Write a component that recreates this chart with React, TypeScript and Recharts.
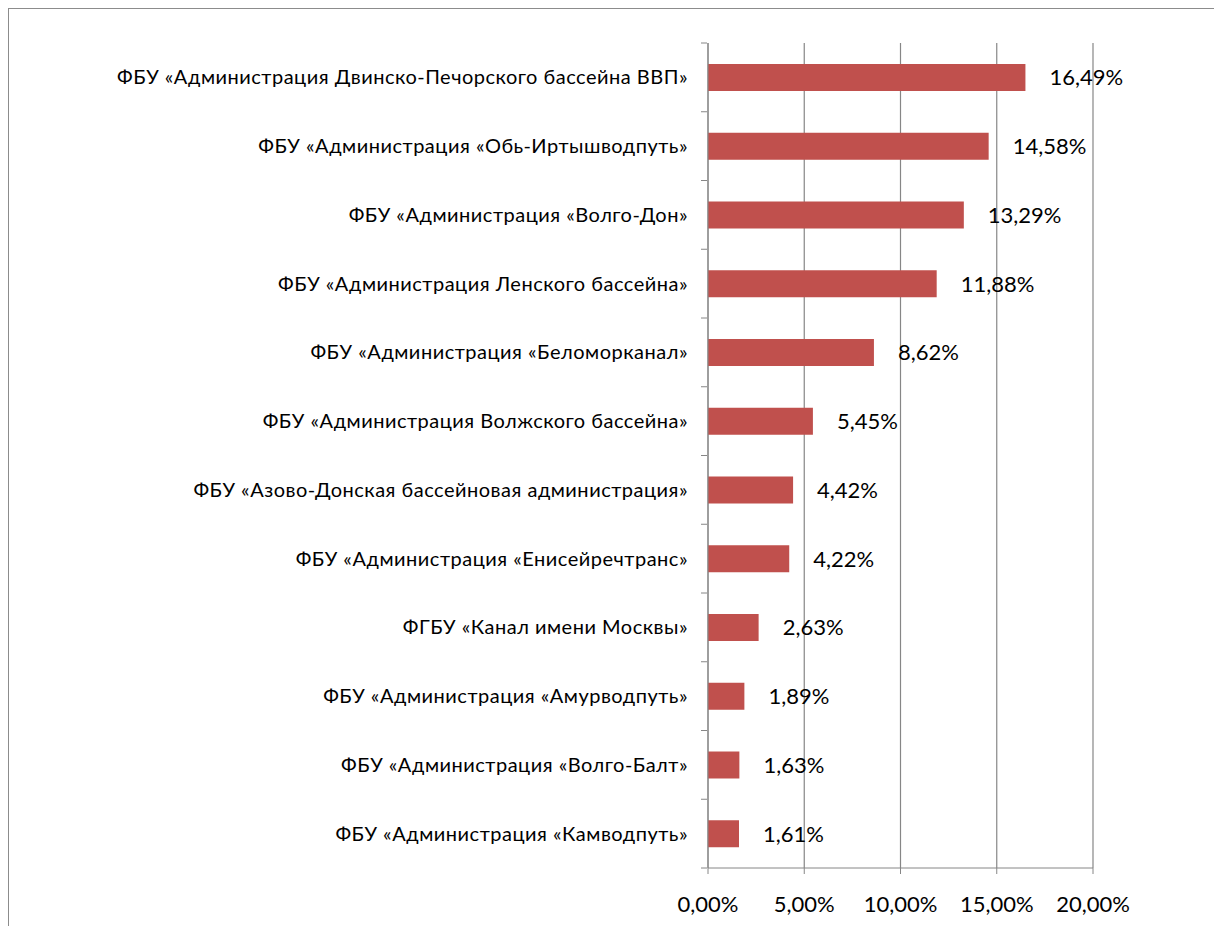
import React from "react";
import {
  BarChart,
  Bar,
  XAxis,
  YAxis,
  CartesianGrid,
  LabelList,
} from "recharts";

const organizations = [
  "ФБУ «Администрация Двинско-Печорского бассейна ВВП»",
  "ФБУ «Администрация «Обь-Иртышводпуть»",
  "ФБУ «Администрация «Волго-Дон»",
  "ФБУ «Администрация Ленского бассейна»",
  "ФБУ «Администрация «Беломорканал»",
  "ФБУ «Администрация Волжского бассейна»",
  "ФБУ «Азово-Донская бассейновая администрация»",
  "ФБУ «Администрация «Енисейречтранс»",
  "ФГБУ «Канал имени Москвы»",
  "ФБУ «Администрация «Амурводпуть»",
  "ФБУ «Администрация «Волго-Балт»",
  "ФБУ «Администрация «Камводпуть»",
];

const shares = [16.49, 14.58, 13.29, 11.88, 8.62, 5.45, 4.42, 4.22, 2.63, 1.89, 1.63, 1.61];

const xTicks = [0, 5, 10, 15, 20];

const data = organizations.map((name, i) => ({ name, value: shares[i] }));

const CHART_W = 1214;
const CHART_H = 918;
const MARGIN = { top: 34, right: 130, bottom: 19, left: 0 };
const X_AXIS_H = 40;
const Y_AXIS_W = 699;
const PLOT_H = CHART_H - MARGIN.top - MARGIN.bottom - X_AXIS_H;
const BAND = PLOT_H / organizations.length;

const AXIS_COLOR = "#868686";
const FONT = "Lato, 'Open Sans', sans-serif";

const pct = (v: number) => v.toFixed(2).replace(".", ",") + "%";

// category labels plus Excel-style tick marks between the categories
function CategoryTick(props: any) {
  const { x, y, payload, index } = props;
  return (
    <g>
      <line x1={x + 1} x2={x + 7} y1={y - BAND / 2} y2={y - BAND / 2} stroke={AXIS_COLOR} />
      {index === organizations.length - 1 && (
        <line x1={x + 1} x2={x + 7} y1={y + BAND / 2} y2={y + BAND / 2} stroke={AXIS_COLOR} />
      )}
      <text
        x={x - 12}
        y={y}
        dy={7}
        textAnchor="end"
        fontSize={20}
        letterSpacing={0.5}
        fontFamily={FONT}
        fill="#000"
      >
        {payload.value}
      </text>
    </g>
  );
}

export default function App() {
  return (
    <div
      style={{
        width: CHART_W,
        height: CHART_H,
        borderTop: "1.5px solid #8c8c8c",
        borderLeft: "1.5px solid #8c8c8c",
        background: "#fff",
      }}
    >
      <BarChart
        width={CHART_W}
        height={CHART_H}
        data={data}
        layout="vertical"
        margin={MARGIN}
        barSize={27}
      >
        <CartesianGrid horizontal={false} stroke={AXIS_COLOR} strokeWidth={1.2} />
        <XAxis
          type="number"
          domain={[0, 20]}
          ticks={xTicks}
          height={X_AXIS_H}
          tickFormatter={pct}
          stroke={AXIS_COLOR}
          tickSize={6}
          tickMargin={22}
          tick={{ fill: "#000", fontSize: 22, fontFamily: FONT }}
        />
        <YAxis
          type="category"
          dataKey="name"
          width={Y_AXIS_W}
          stroke={AXIS_COLOR}
          tickLine={false}
          tick={<CategoryTick />}
          interval={0}
        />
        <Bar dataKey="value" fill="#C0504D" isAnimationActive={false}>
          <LabelList
            dataKey="value"
            position="right"
            offset={24}
            formatter={(v: any) => pct(Number(v))}
            style={{ fill: "#000", fontSize: 22, fontFamily: FONT }}
          />
        </Bar>
      </BarChart>
    </div>
  );
}
